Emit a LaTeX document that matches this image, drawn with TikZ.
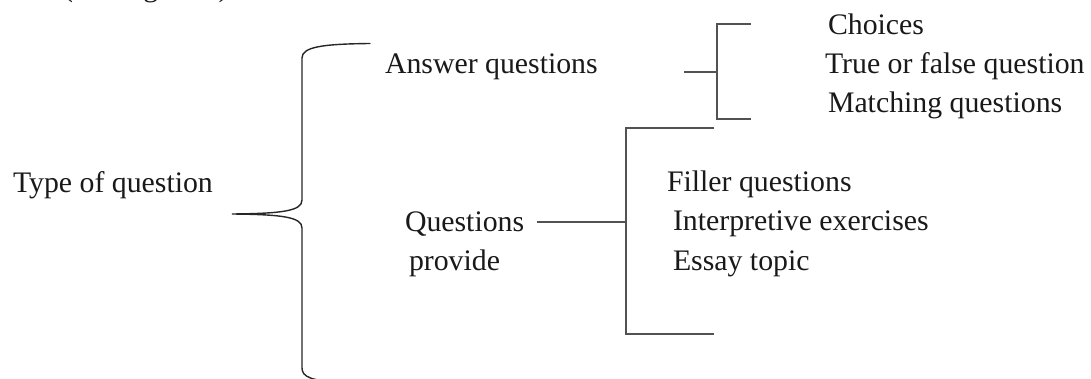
\documentclass[tikz,border=0pt]{standalone}
\usepackage{fontspec}
\setmainfont{Liberation Serif}
\tikzset{
  lbl/.style={anchor=base west, inner sep=0pt, outer sep=0pt,
              font=\fontsize{29.8}{36}\selectfont, text=black!90},
  bracket/.style={draw=black!68, line width=1.6pt},
  bracewire/.style={draw=black!85, line width=1.4pt, line cap=round}
}
\begin{document}
\begin{tikzpicture}[x=1pt, y=-1pt]
\useasboundingbox (0,0) rectangle (1091,379);
\begin{scope}
\clip (0,0) rectangle (1091,379);
% caption line running off the top edge
\node[lbl] (cap) at (63,-3) {(see Figure 2)};

% root label and the large curly brace
\node[lbl] (type) at (13,193) {Type of question};
\coordinate (tip) at (232,214);
\draw[bracewire] (370,43.5) .. controls (322,44) and (302,47) .. (302,58)
  -- (302,200) .. controls (302,211) and (282,213.5) .. (tip)
  .. controls (282,214.5) and (302,217) .. (302,228)
  -- (302,368) .. controls (302,377) and (312,381) .. (340,382);

% first branch
\node[lbl] (answer) at (385,74) {Answer questions};
\coordinate (a0) at (684,72);
\coordinate (a1) at (717,72);
\coordinate (atop) at (717,24);
\coordinate (abot) at (717,119);
\coordinate (atopend) at (751,24);
\coordinate (abotend) at (751,119);
\draw[bracket] (a0) -- (a1);
\draw[bracket] (atopend) -- (atop) -- (abot) -- (abotend);
\node[lbl] (choices) at (828,35) {Choices};
\node[lbl] (truefalse) at (825,74) {True or false question};
\node[lbl] (matching) at (828,113) {Matching questions};

% second branch
\node[lbl] (quest) at (405,232) {Questions};
\node[lbl] (provide) at (409,270) {provide};
\coordinate (b0) at (537,222);
\coordinate (b1) at (626,222);
\coordinate (btop) at (626,128);
\coordinate (bbot) at (626,334);
\coordinate (btopend) at (714,128);
\coordinate (bbotend) at (714,334);
\draw[bracket] (b0) -- (b1);
\draw[bracket] (btopend) -- (btop) -- (bbot) -- (bbotend);
\node[lbl] (filler) at (667,192) {Filler questions};
\node[lbl] (interp) at (673,230) {Interpretive exercises};
\node[lbl] (essay) at (673,270) {Essay topic};
\end{scope}
\end{tikzpicture}
\end{document}
